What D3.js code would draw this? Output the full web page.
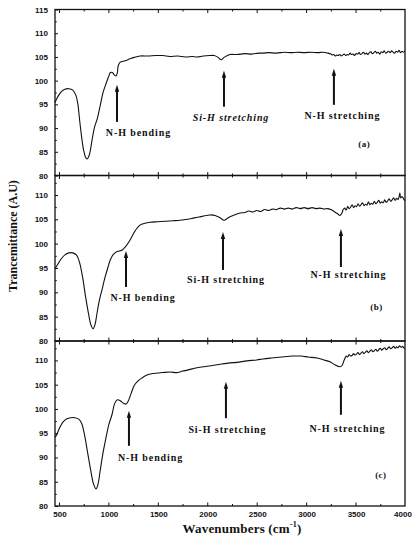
<!DOCTYPE html>
<html><head><meta charset="utf-8">
<script src="https://cdn.jsdelivr.net/npm/d3@7"></script>
<style>
html,body{margin:0;padding:0;background:#fff;}
svg{display:block;}
</style></head>
<body>
<svg id="chart" width="415" height="541"></svg>
<script>
// ---------------- DATA ----------------
const wavenumberTicks = [500, 1000, 1500, 2000, 2500, 3000, 3500, 4000];
const transTicks = [80, 85, 90, 95, 100, 105, 110, 115];
const panelNames = ["(a)", "(b)", "(c)"];

// spectrum (a): [wavenumber, transmittance]
const specA = [
 [460,95.4],[480,96.3],[500,97.0],[530,97.8],[560,98.2],[600,98.3],[640,98.0],[670,97.0],[690,95.2],[710,91.5],
 [730,88.0],[750,85.3],[770,83.8],[785,83.5],[800,83.9],[815,85.0],[835,87.5],[860,90.2],[885,91.8],[915,94.5],
 [945,97.4],[975,99.3],[1000,100.7],[1020,101.7],[1040,101.7],[1060,101.2],[1077,101.0],[1090,101.6],[1100,103.2],[1120,103.9],
 [1168,104.2],[1218,104.6],[1260,104.9],[1320,105.2],[1400,105.2],[1480,105.3],[1552,105.3],[1620,105.1],[1700,105.2],[1780,105.0],
 [1850,105.1],[1896,105.0],[1960,105.2],[2020,105.3],[2070,105.3],[2110,104.9],[2140,104.4],[2170,104.9],[2229,105.5],[2300,105.5],
 [2380,105.7],[2450,105.6],[2520,105.8],[2563,105.8],[2620,105.9],[2700,105.8],[2780,106.0],[2850,105.9],[2907,106.0],[2980,105.9],
 [3050,106.0],[3120,105.9],[3170,106.0],[3220,105.8],[3250,105.6],[3265,105.4],[3280,105.5],[3295,105.2],[3310,105.4],[3325,105.3],
 [3340,105.5],[3355,105.2],[3370,105.4],[3385,105.6],[3400,105.3],[3415,105.5],[3430,105.4],[3445,105.8],[3460,105.5],[3475,105.6],
 [3490,105.3],[3505,105.7],[3520,105.6],[3535,105.9],[3550,105.5],[3565,105.7],[3580,106.0],[3595,105.6],[3610,105.8],[3625,105.5],
 [3640,105.9],[3655,106.1],[3670,105.7],[3685,105.9],[3700,106.2],[3715,105.8],[3730,106.0],[3745,105.6],[3760,106.1],[3775,105.9],
 [3790,106.3],[3805,105.8],[3820,106.0],[3835,106.2],[3850,105.9],[3865,106.3],[3880,106.0],[3895,105.8],[3910,106.2],[3925,106.0],
 [3940,106.4],[3955,105.9],[3970,106.2],[3985,106.0],[4000,106.3]
];

// spectrum (b)
const specB = [
 [460,94.8],[480,95.5],[520,96.8],[560,97.7],[600,98.1],[640,98.1],[680,97.6],[710,96.0],[740,93.0],[770,89.0],
 [800,85.5],[825,83.2],[845,82.5],[865,83.4],[885,85.7],[905,88.0],[935,90.5],[965,93.0],[995,95.1],[1020,96.7],
 [1050,97.8],[1080,98.3],[1110,98.5],[1140,98.7],[1170,99.3],[1218,100.7],[1260,102.3],[1319,103.8],[1370,104.2],[1421,104.4],
 [1500,104.5],[1580,104.6],[1650,104.7],[1724,104.8],[1800,105.0],[1870,105.3],[1950,105.6],[2027,105.9],[2080,105.8],[2130,105.3],
 [2170,104.8],[2210,105.3],[2260,105.8],[2331,106.3],[2380,106.4],[2420,106.7],[2460,106.5],[2500,106.8],[2540,106.6],[2580,107.0],
 [2620,106.8],[2660,107.1],[2700,107.0],[2740,107.3],[2780,107.1],[2820,107.3],[2860,107.1],[2900,107.4],[2940,107.2],[2980,107.4],
 [3020,107.2],[3060,107.4],[3100,107.2],[3140,107.3],[3180,107.1],[3220,107.2],[3260,106.9],[3290,106.5],[3315,106.2],[3342,105.8],
 [3360,106.2],[3375,107.0],[3390,107.3],[3405,106.9],[3420,107.6],[3435,107.2],[3450,107.5],[3465,108.0],[3480,107.4],[3495,107.8],
 [3510,107.6],[3525,108.2],[3540,107.7],[3555,108.0],[3570,108.4],[3585,107.8],[3600,108.1],[3615,107.9],[3630,108.6],[3645,108.0],
 [3660,108.3],[3675,108.1],[3690,108.7],[3705,108.2],[3720,108.5],[3735,108.9],[3750,108.3],[3765,108.6],[3780,108.4],[3795,109.0],
 [3810,108.5],[3825,108.8],[3840,109.2],[3855,108.7],[3870,109.0],[3885,109.4],[3900,108.9],[3915,109.3],[3930,109.1],[3940,109.6],
 [3948,110.4],[3956,109.4],[3970,109.7],[3985,109.2],[4000,108.8]
];

// spectrum (c)
const specC = [
 [460,94.2],[475,94.6],[500,95.8],[540,97.3],[580,98.0],[620,98.2],[660,98.2],[700,97.9],[730,97.0],[760,94.5],
 [790,91.0],[820,87.5],[850,84.5],[875,83.5],[895,84.5],[915,87.0],[945,90.9],[975,94.0],[1005,96.8],[1036,98.8],
 [1065,101.2],[1090,101.9],[1120,101.7],[1150,101.2],[1178,101.0],[1200,101.6],[1230,103.2],[1260,104.8],[1290,105.6],[1340,106.4],
 [1390,107.0],[1450,107.3],[1550,107.5],[1623,107.6],[1700,107.5],[1750,107.8],[1800,108.0],[1896,108.5],[2000,108.8],[2100,109.1],
 [2229,109.5],[2300,109.6],[2400,109.9],[2500,110.1],[2563,110.3],[2650,110.5],[2750,110.7],[2866,110.9],[2950,110.9],[3020,110.7],
 [3109,110.5],[3180,110.1],[3240,109.7],[3290,109.1],[3342,108.7],[3365,109.0],[3380,109.8],[3390,110.3],[3405,110.9],[3420,110.7],
 [3435,111.2],[3450,110.9],[3465,111.0],[3480,111.4],[3495,111.1],[3510,111.3],[3525,111.6],[3540,111.2],[3555,111.5],[3570,111.8],
 [3585,111.4],[3600,111.7],[3615,112.0],[3630,111.6],[3645,111.9],[3660,112.2],[3675,111.8],[3690,112.0],[3705,112.3],[3720,111.9],
 [3735,112.2],[3750,112.5],[3765,112.1],[3780,112.4],[3795,112.6],[3810,112.2],[3825,112.5],[3840,112.8],[3855,112.4],[3870,112.6],
 [3885,112.9],[3900,112.5],[3915,112.8],[3930,112.6],[3945,113.0],[3960,112.7],[3975,112.9],[3990,112.5],[4000,112.6]
];

// annotation arrows: [wavenumber, tail value, head value]
const arrowsA = [[1087, 91.3, 98.9], [2169, 94.5, 101.9], [3281, 94.9, 102.3]];
const arrowsB = [[1178, 91.1, 98.3], [2159, 94.6, 102.2], [3352, 95.2, 102.8]];
const arrowsC = [[1208, 92.4, 99.4], [2189, 98.1, 105.4], [3352, 98.8, 105.6]];

// annotation texts: [text, wavenumber (centre), value (baseline)]
const labelsA = [["N-H bending", 1304, 88.4], ["Si-H stretching", 2240, 91.5], ["N-H stretching", 3367, 91.9]];
const labelsB = [["N-H bending", 1350, 88.2], ["Si-H stretching", 2189, 91.9], ["N-H stretching", 3428, 92.9]];
const labelsC = [["N-H bending", 1426, 89.3], ["Si-H stretching", 2204, 95.1], ["N-H stretching", 3418, 95.3]];
const namePos = [[3589, 86.0], [3711, 86.4], [3756, 85.8]];

// ---------------- LAYOUT ----------------
const svg = d3.select("#chart");
const left = 55, right = 405;
const x = d3.scaleLinear().domain([460, 4000]).range([left, right]);

const panels = [
  {top: 9.5, bottom: 175.5, dom: [80, 115], data: specA, arrows: arrowsA, labels: labelsA, italicSi: true},
  {top: 175.5, bottom: 341, dom: [80, 114], data: specB, arrows: arrowsB, labels: labelsB, italicSi: false},
  {top: 341, bottom: 506, dom: [80, 114], data: specC, arrows: arrowsC, labels: labelsC, italicSi: false}
];

const serif = "'Liberation Serif','Times New Roman',serif";
const sans = "'Liberation Sans',Arial,sans-serif";

panels.forEach((p, i) => {
  const y = d3.scaleLinear().domain(p.dom).range([p.bottom, p.top]);
  const g = svg.append("g");

  const line = d3.line().x(d => x(d[0])).y(d => y(d[1])).curve(d3.curveCatmullRom.alpha(0.5));
  g.append("path").datum(p.data).attr("d", line)
    .attr("fill", "none").attr("stroke", "#111").attr("stroke-width", 1.1)
    .attr("stroke-linejoin", "round");

  const yt = transTicks.filter(t => t <= p.dom[1]);
  g.append("g").attr("transform", `translate(${left},0)`)
    .call(d3.axisRight(y).tickValues(yt).tickSize(3).tickFormat(""))
    .call(s => s.select(".domain").remove())
    .selectAll("line").attr("stroke", "#111").attr("stroke-width", 1);
  const yMinor = d3.range(p.dom[0] + 2.5, p.dom[1], 5);
  g.append("g").attr("transform", `translate(${left},0)`)
    .call(d3.axisRight(y).tickValues(yMinor).tickSize(1.8).tickFormat(""))
    .call(s => s.select(".domain").remove())
    .selectAll("line").attr("stroke", "#111");
  g.selectAll(".ylab").data(yt).enter().append("text")
    .attr("x", left - 7).attr("y", d => y(d) + 3)
    .attr("text-anchor", "end").attr("font-family", sans).attr("font-weight", "bold")
    .attr("font-size", 8).attr("fill", "#111").text(d => d);

  const xMinor = d3.range(750, 4000, 500);
  [[p.bottom, -1], [p.top, 1]].forEach(([yy, dir]) => {
    g.append("g").attr("transform", `translate(0,${yy})`)
      .call((dir < 0 ? d3.axisTop(x) : d3.axisBottom(x)).tickValues(wavenumberTicks.filter(t => t < 4000)).tickSize(3.5).tickFormat(""))
      .call(s => s.select(".domain").remove())
      .selectAll("line").attr("stroke", "#111");
    g.append("g").attr("transform", `translate(0,${yy})`)
      .call((dir < 0 ? d3.axisTop(x) : d3.axisBottom(x)).tickValues(xMinor).tickSize(2).tickFormat(""))
      .call(s => s.select(".domain").remove())
      .selectAll("line").attr("stroke", "#111");
  });

  g.append("rect").attr("x", left).attr("y", p.top)
    .attr("width", right - left).attr("height", p.bottom - p.top)
    .attr("fill", "none").attr("stroke", "#111").attr("stroke-width", 1.3);

  p.arrows.forEach(a => {
    const ax = x(a[0]), y1 = y(a[1]), y2 = y(a[2]);
    g.append("line").attr("x1", ax).attr("x2", ax).attr("y1", y1).attr("y2", y2 + 4)
      .attr("stroke", "#111").attr("stroke-width", 2);
    g.append("path").attr("d", `M${ax},${y2 - 1} L${ax - 2.2},${y2 + 6} L${ax + 2.2},${y2 + 6} Z`)
      .attr("fill", "#111");
  });

  p.labels.forEach(l => {
    g.append("text").attr("x", x(l[1])).attr("y", y(l[2]))
      .attr("text-anchor", "middle").attr("font-family", serif).attr("font-weight", "bold")
      .attr("font-size", 10).attr("letter-spacing", 0.9)
      .attr("font-style", (p.italicSi && l[0].startsWith("Si")) ? "italic" : "normal")
      .attr("fill", "#111").text(l[0]);
  });
  g.append("text").attr("x", x(namePos[i][0])).attr("y", y(namePos[i][1]))
    .attr("text-anchor", "middle").attr("font-family", serif).attr("font-weight", "bold")
    .attr("font-size", 9).attr("letter-spacing", 0.5).attr("fill", "#111").text(panelNames[i]);
});

svg.selectAll(".xlab").data(wavenumberTicks).enter().append("text")
  .attr("x", d => x(d) + (d === 4000 ? -2 : 1)).attr("y", 517)
  .attr("text-anchor", "middle").attr("font-family", sans).attr("font-weight", "bold")
  .attr("font-size", 8).attr("fill", "#111").text(d => d);

const xt = svg.append("text").attr("x", 242).attr("y", 533)
  .attr("text-anchor", "middle").attr("font-family", serif).attr("font-weight", "bold")
  .attr("font-size", 13).attr("letter-spacing", 0.2).attr("fill", "#111");
xt.append("tspan").text("Wavenumbers (cm");
xt.append("tspan").attr("font-size", 8).attr("dy", -6).text("-1");
xt.append("tspan").attr("dy", 6).text(")");

svg.append("text").attr("transform", "translate(17,236) rotate(-90)")
  .attr("text-anchor", "middle").attr("font-family", serif).attr("font-weight", "bold")
  .attr("font-size", 12).attr("fill", "#111").text("Trancemittance (A.U)");
</script>
</body></html>
